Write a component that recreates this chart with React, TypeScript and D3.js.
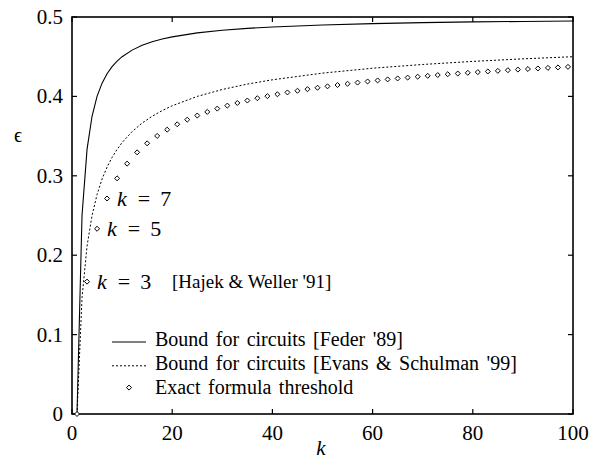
import React from "react";
import * as d3 from "d3";

// sampled k values for the two bound curves
const boundK = [1, 2, 3, 4, 5, 6, 7, 8, 9, 10, 12, 14, 16, 18, 20, 25, 30, 35, 40, 50, 60, 70, 80, 90, 100];
const federBound = [0, 0.25, 0.3333, 0.375, 0.4, 0.4167, 0.4286, 0.4375, 0.4444, 0.45, 0.4583, 0.4643, 0.4688, 0.4722, 0.475, 0.48, 0.4833, 0.4857, 0.4875, 0.49, 0.4917, 0.4929, 0.4938, 0.4944, 0.495];
const evansBound = [0, 0.1464, 0.2113, 0.25, 0.2764, 0.2959, 0.311, 0.3232, 0.3333, 0.3419, 0.3557, 0.3664, 0.375, 0.3821, 0.3882, 0.4, 0.4087, 0.4155, 0.4209, 0.4293, 0.4355, 0.4402, 0.4441, 0.4473, 0.45];

// exact threshold at odd k
const exactK = [1, 3, 5, 7, 9, 11, 13, 15, 17, 19, 21, 23, 25, 27, 29, 31, 33, 35, 37, 39, 41, 43, 45, 47, 49, 51, 53, 55, 57, 59, 61, 63, 65, 67, 69, 71, 73, 75, 77, 79, 81, 83, 85, 87, 89, 91, 93, 95, 97, 99];
const exactEps = [0, 0.1667, 0.2333, 0.2714, 0.2968, 0.3153, 0.3295, 0.3409, 0.3502, 0.3581, 0.3649, 0.3707, 0.3759, 0.3805, 0.3846, 0.3884, 0.3917, 0.3948, 0.3977, 0.4003, 0.4027, 0.405, 0.4071, 0.4091, 0.4109, 0.4127, 0.4143, 0.4159, 0.4174, 0.4188, 0.4201, 0.4214, 0.4226, 0.4237, 0.4248, 0.4259, 0.4269, 0.4279, 0.4288, 0.4297, 0.4306, 0.4314, 0.4322, 0.433, 0.4338, 0.4345, 0.4352, 0.4359, 0.4365, 0.4372];

const xTicks = [0, 20, 40, 60, 80, 100];
const yTicks = [0, 0.1, 0.2, 0.3, 0.4, 0.5];
const annotatedK = [3, 5, 7];
const legendLabels = [
  "Bound for circuits [Feder '89]",
  "Bound for circuits [Evans & Schulman '99]",
  "Exact formula threshold",
];

const FONT = "Liberation Serif";
const W = 613, H = 458;
const left = 72, right = 573, top = 17, bottom = 414;

export default function App() {
  document.body.style.margin = "0";
  const x = d3.scaleLinear().domain([0, 100]).range([left, right]);
  const y = d3.scaleLinear().domain([0, 0.5]).range([bottom, top]);

  const line = d3.line<number>().x((d, i) => x(boundK[i])).y((d) => y(d));
  const diamond = d3.symbol().type(d3.symbolDiamond2).size(16)() as string;

  const txt = (size: number, extra: React.CSSProperties = {}): React.CSSProperties => ({
    fontFamily: FONT, fontSize: size, ...extra,
  });

  return (
    <svg width={W} height={H} style={{ display: "block" }}>
      <rect width={W} height={H} fill="white" />

      {/* inward ticks on all four sides */}
      {xTicks.map((t) => (
        <g key={"x" + t}>
          <line x1={x(t)} x2={x(t)} y1={bottom} y2={bottom - 5} stroke="#000" strokeWidth={1.2} />
          <line x1={x(t)} x2={x(t)} y1={top} y2={top + 5} stroke="#000" strokeWidth={1.2} />
          <text x={x(t)} y={440} textAnchor="middle" style={txt(21)}>{t}</text>
        </g>
      ))}
      {yTicks.map((t) => (
        <g key={"y" + t}>
          <line x1={left} x2={left + 5} y1={y(t)} y2={y(t)} stroke="#000" strokeWidth={1.2} />
          <line x1={right} x2={right - 5} y1={y(t)} y2={y(t)} stroke="#000" strokeWidth={1.2} />
          <text x={63} y={y(t) + 7} textAnchor="end" style={txt(21)}>{t === 0 ? "0" : t.toFixed(1)}</text>
        </g>
      ))}
      <rect x={left} y={top} width={right - left} height={bottom - top} fill="none" stroke="#000" strokeWidth={1.6} />

      {/* curves */}
      <path d={line(federBound) ?? ""} fill="none" stroke="#000" strokeWidth={1.1} />
      <path d={line(evansBound) ?? ""} fill="none" stroke="#000" strokeWidth={1} strokeDasharray="2,2" />
      {exactK.map((k, i) => (
        <path key={k} d={diamond} transform={`translate(${x(k)},${y(exactEps[i])})`}
          fill="white" stroke="#000" strokeWidth={1} />
      ))}

      {/* k = 3,5,7 annotations */}
      {annotatedK.map((k) => {
        const i = exactK.indexOf(k);
        return (
          <text key={"a" + k} x={x(k) + 10} y={y(exactEps[i]) + 7} style={txt(22)}>
            <tspan style={{ fontStyle: "italic" }}>k</tspan>
            <tspan dx={11}>=</tspan>
            <tspan dx={10}>{k}</tspan>
          </text>
        );
      })}
      <text x={172} y={y(exactEps[1]) + 6} style={txt(19)}>[Hajek &amp; Weller '91]</text>

      {/* legend */}
      {legendLabels.map((label, i) => {
        const ly = 346 + i * 23.8;
        return (
          <g key={label}>
            <text x={155} y={ly} style={txt(20, { wordSpacing: 2.5 })}>{label}</text>
            {i === 0 && <line x1={112} x2={146} y1={ly - 4} y2={ly - 4} stroke="#000" strokeWidth={1.1} />}
            {i === 1 && <line x1={112} x2={146} y1={ly - 4} y2={ly - 4} stroke="#000" strokeWidth={1} strokeDasharray="2,2" />}
            {i === 2 && <path d={diamond} transform={`translate(129,${ly - 6})`} fill="white" stroke="#000" />}
          </g>
        );
      })}

      {/* axis titles */}
      <text x={321} y={455} textAnchor="middle" style={txt(21, { fontStyle: "italic" })}>k</text>
      <text x={18} y={142} textAnchor="middle" style={txt(20)}>ϵ</text>
    </svg>
  );
}
